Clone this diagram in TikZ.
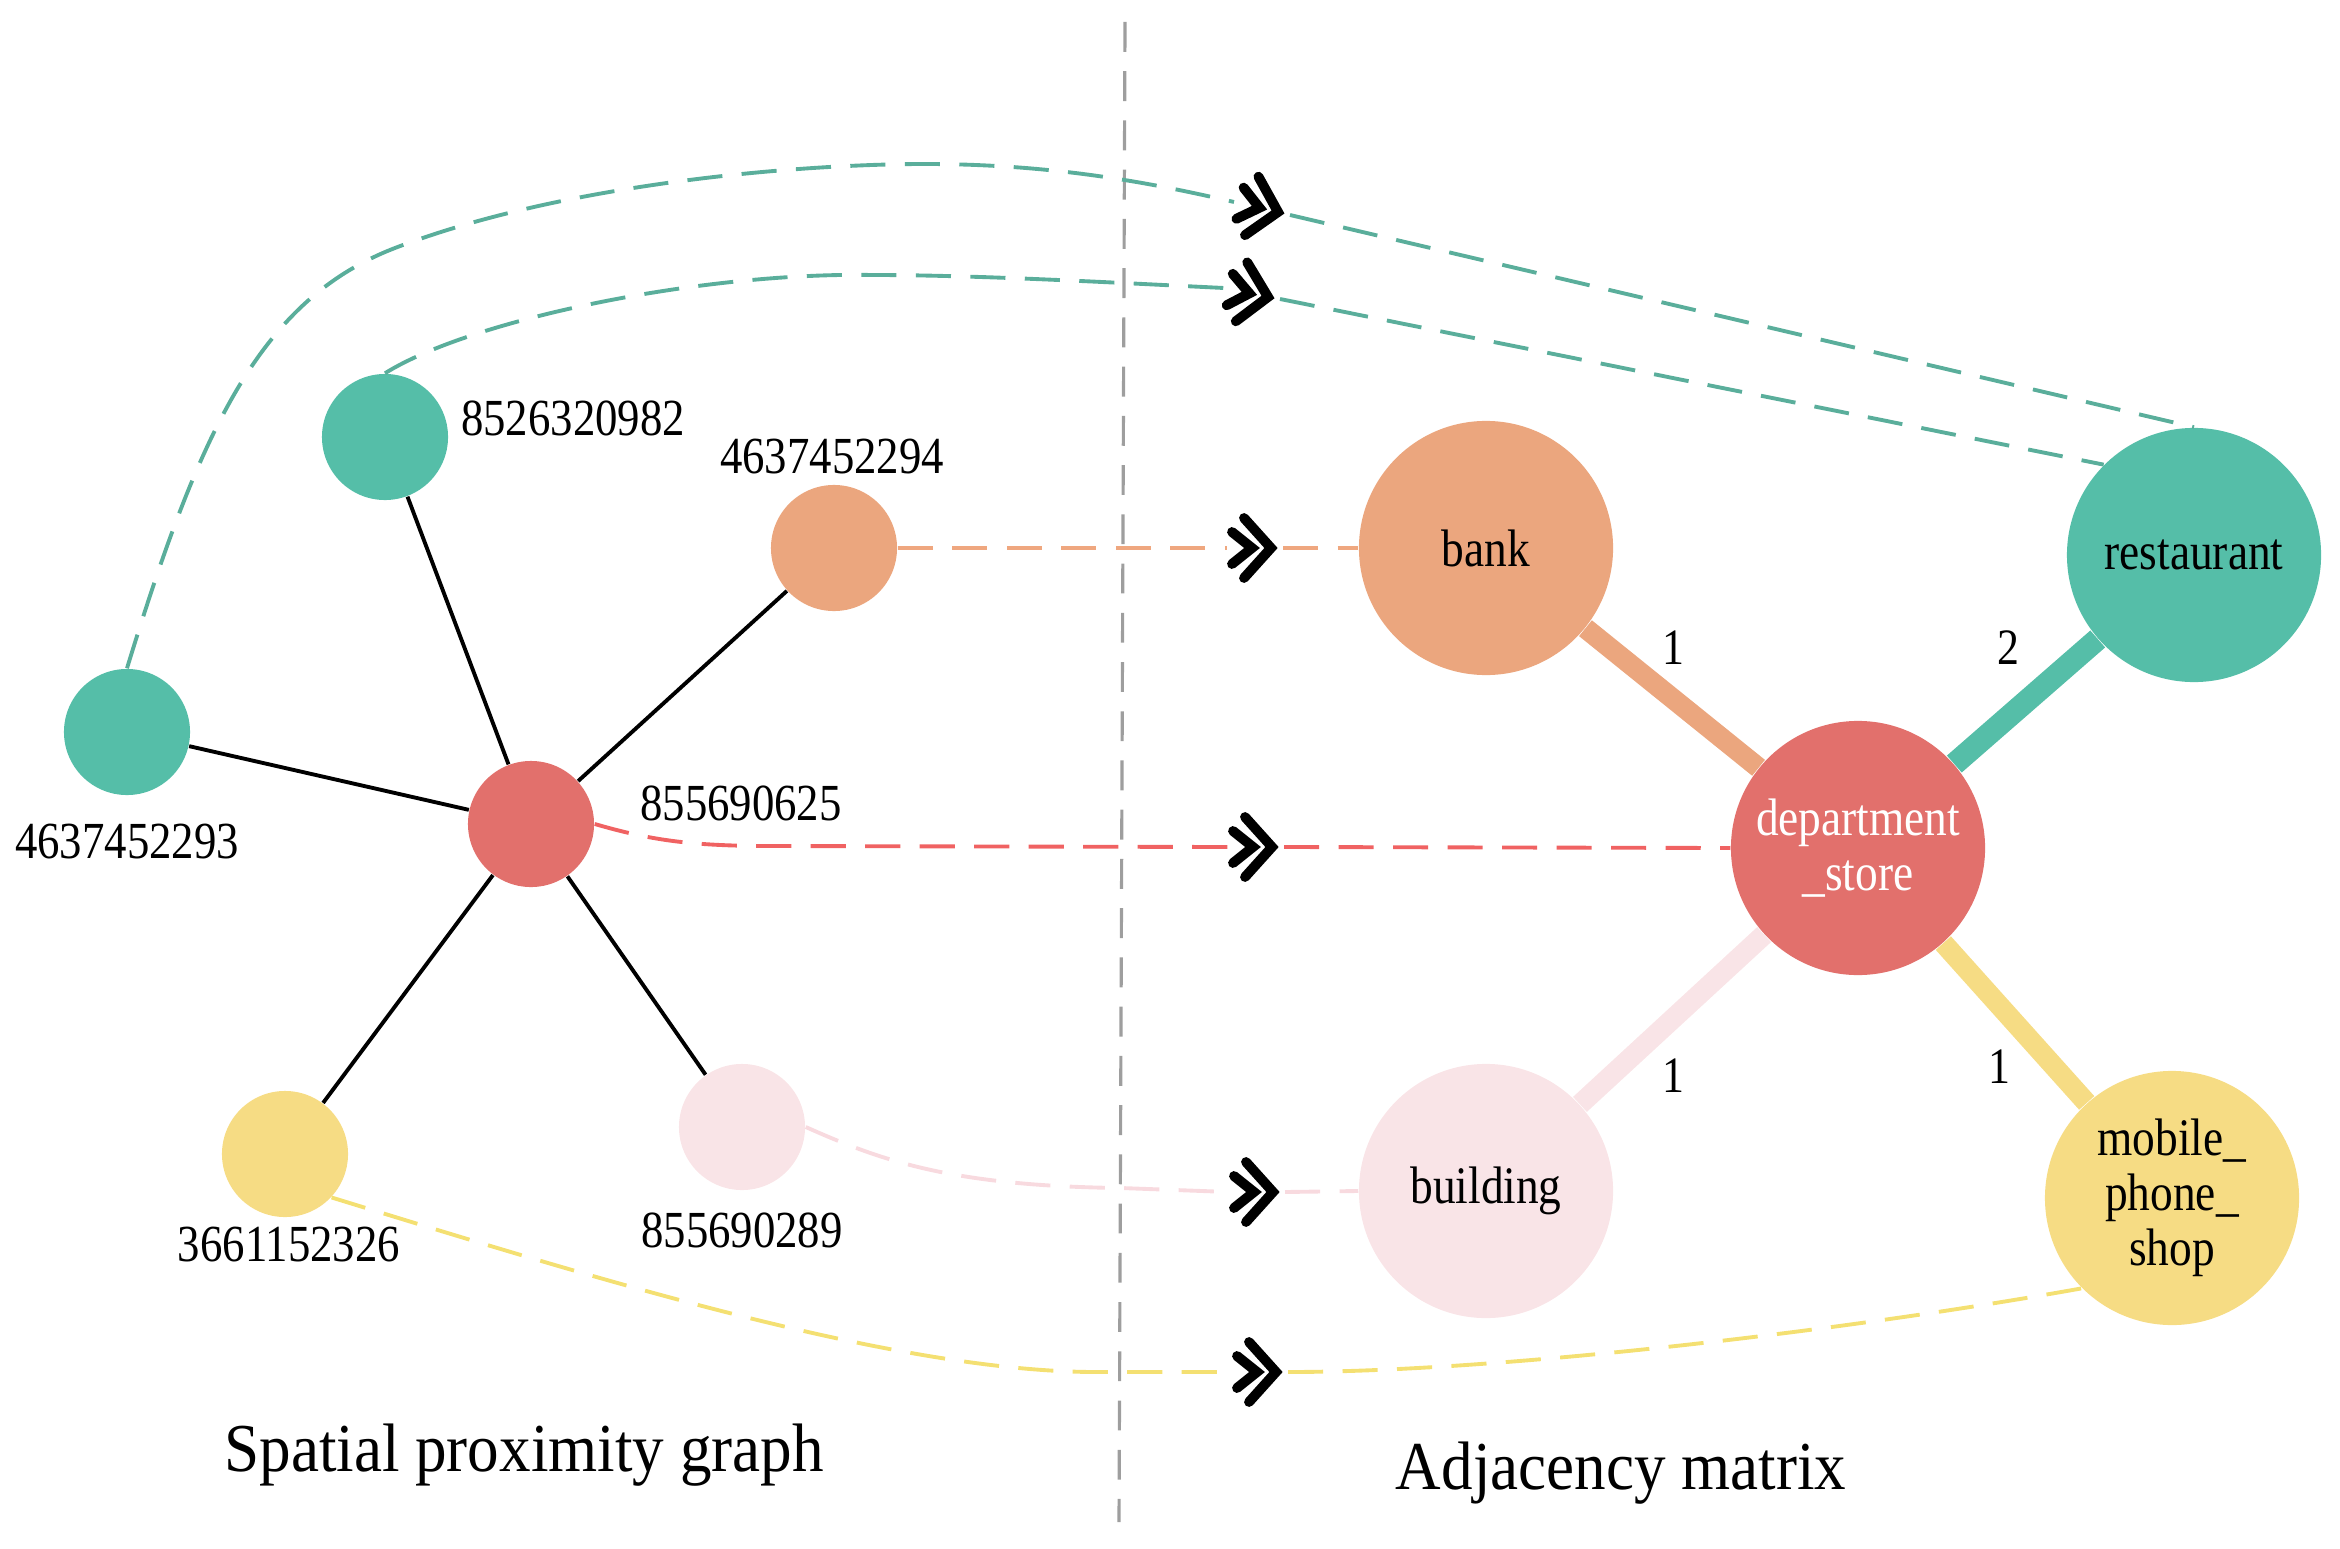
\documentclass[tikz,border=0pt]{standalone}
\usepackage{fontspec}
\setmainfont{Liberation Serif}
\newfontfamily\narrowserif[FakeStretch=0.86]{Liberation Serif}
\newfontfamily\titleserif[FakeStretch=0.92]{Liberation Serif}
\definecolor{poiteal}{HTML}{55BEA8}
\definecolor{poiorange}{HTML}{EBA67E}
\definecolor{poired}{HTML}{E2706C}
\definecolor{poipink}{HTML}{F9E4E7}
\definecolor{poiyellow}{HTML}{F6DC84}
\definecolor{linkteal}{HTML}{5AAE9B}
\definecolor{linkorange}{HTML}{EFA77F}
\definecolor{linkred}{HTML}{F06262}
\definecolor{linkpink}{HTML}{F8DADF}
\definecolor{linkyellow}{HTML}{F4E072}
\tikzset{
  chev/.pic={
    \draw[line width=2.8pt, line cap=round, line join=miter] (-27,-30) -- (0,0) -- (-27,30);
    \draw[line width=2.8pt, line cap=round, line join=miter] (-39,-16) -- (-19,0) -- (-39,16);
  }
}
\begin{document}
\begin{tikzpicture}[x=0.01cm, y=-0.01cm,
    poi/.style={circle, minimum size=1.26cm, inner sep=0pt},
    cat/.style={circle, minimum size=2.54cm, inner sep=0pt, align=center, font=\narrowserif\fontsize{15}{15.6}\selectfont},
    idlabel/.style={font=\narrowserif\fontsize{14.8}{15}\selectfont, inner sep=0pt},
    wlabel/.style={font=\narrowserif\fontsize{14.5}{15}\selectfont, inner sep=0pt},
    title/.style={font=\titleserif\fontsize{19.5}{21}\selectfont, inner sep=0pt},
    edge/.style={line width=1.1pt, black},
    wedge/.style={line width=5.8pt},
    link/.style={line width=1.1pt, dash pattern=on 10pt off 5.5pt}]
  \useasboundingbox (0,0) rectangle (2340,1549);
  \coordinate (divtop) at (1125,22);
  \coordinate (divbot) at (1119,1522);
  \draw[line width=0.9pt, color=black!38, dash pattern=on 8.5pt off 5.5pt] (divtop) -- (divbot);

  \node[name=n82, poi, fill=poiteal] at (385,437) {};
  \node[name=n94, poi, fill=poiorange] at (834,548) {};
  \node[name=n93, poi, fill=poiteal] at (127,732) {};
  \node[name=n25, poi, fill=poired] at (531,824) {};
  \node[name=n26, poi, fill=poiyellow] at (285,1154) {};
  \node[name=n89, poi, fill=poipink] at (742,1127) {};
  \node[name=l82, idlabel] at (573,418) {8526320982};
  \node[name=l94, idlabel] at (832,457) {4637452294};
  \node[name=l93, idlabel] at (127,842) {4637452293};
  \node[name=l25, idlabel] at (741,803) {855690625};
  \node[name=l26, idlabel] at (289,1245) {3661152326};
  \node[name=l89, idlabel] at (742,1230) {855690289};
  \draw[edge] (n25) -- (n82);
  \draw[edge] (n25) -- (n94);
  \draw[edge] (n25) -- (n93);
  \draw[edge] (n25) -- (n26);
  \draw[edge] (n25) -- (n89);

  \node[name=bank, cat, fill=poiorange] at (1486,548) {bank};
  \node[name=rest, cat, fill=poiteal] at (2194,555) {restaurant};
  \node[name=dept, cat, fill=poired, text=white] at (1858,848) {department\\\_store};
  \node[name=bldg, cat, fill=poipink] at (1486,1191) {building};
  \node[name=shop, cat, fill=poiyellow] at (2172,1198) {mobile\_\\phone\_\\shop};
  \draw[wedge, poiorange] (bank) -- (dept);
  \draw[wedge, poiteal, line width=6.4pt] (rest) -- (dept);
  \draw[wedge, poipink] (bldg) -- (dept);
  \draw[wedge, poiyellow] (shop) -- (dept);
  \node[name=w1, wlabel] at (1673,648) {1};
  \node[name=w2, wlabel] at (2008,648) {2};
  \node[name=w3, wlabel] at (1673,1076) {1};
  \node[name=w4, wlabel] at (1999,1067) {1};

  \coordinate (m1) at (1278,212);
  \coordinate (m1a) at (1234,202);
  \coordinate (m1b) at (1290,215);
  \coordinate (m2) at (1268,297);
  \coordinate (m2a) at (1224,288);
  \coordinate (m2b) at (1280,299);
  \coordinate (m3) at (1271,548);
  \coordinate (m3a) at (1227,548);
  \coordinate (m3b) at (1283,548);
  \coordinate (m4) at (1272,847);
  \coordinate (m4a) at (1228,847);
  \coordinate (m4b) at (1284,847);
  \coordinate (m5) at (1273,1192);
  \coordinate (m5a) at (1229,1192);
  \coordinate (m5b) at (1285,1192);
  \coordinate (m6) at (1276,1372);
  \coordinate (m6a) at (1232,1372);
  \coordinate (m6b) at (1288,1372);
  \pic[rotate=-13] at (m1) {chev};
  \pic[rotate=-11] at (m2) {chev};
  \pic at (m3) {chev};
  \pic at (m4) {chev};
  \pic at (m5) {chev};
  \pic at (m6) {chev};

  \draw[link, linkteal] (n93.north) .. controls (200,430) and (260,300) .. (395,248)
    .. controls (565,183) and (800,164) .. (925,164)
    .. controls (1060,164) and (1160,185) .. (m1a);
  \draw[link, linkteal] (m1b) -- (rest.north);
  \draw[link, linkteal] (n82.north) .. controls (470,320) and (700,272) .. (872,275)
    .. controls (980,275) and (1120,283) .. (m2a);
  \draw[link, linkteal] (m2b) -- (rest.135);
  \draw[link, linkorange] (n94.east) -- (m3a);
  \draw[link, linkorange] (m3b) -- (bank.west);
  \draw[link, linkred] (n25.east) .. controls (650,840) and (690,846) .. (770,846) -- (m4a);
  \draw[link, linkred] (m4b) -- (dept.west);
  \draw[link, linkpink] (n89.east) .. controls (880,1160) and (950,1186) .. (1121,1188) -- (m5a);
  \draw[link, linkpink] (m5b) -- (bldg.west);
  \draw[link, linkyellow] (n26.-43) .. controls (600,1280) and (900,1373) .. (1100,1372) -- (m6a);
  \draw[link, linkyellow] (m6b) .. controls (1500,1372) and (1850,1330) .. (shop.225);

  \node[name=tleft, title] at (524,1455) {Spatial proximity graph};
  \node[name=tright, title] at (1621,1473) {Adjacency matrix};
\end{tikzpicture}
\end{document}
